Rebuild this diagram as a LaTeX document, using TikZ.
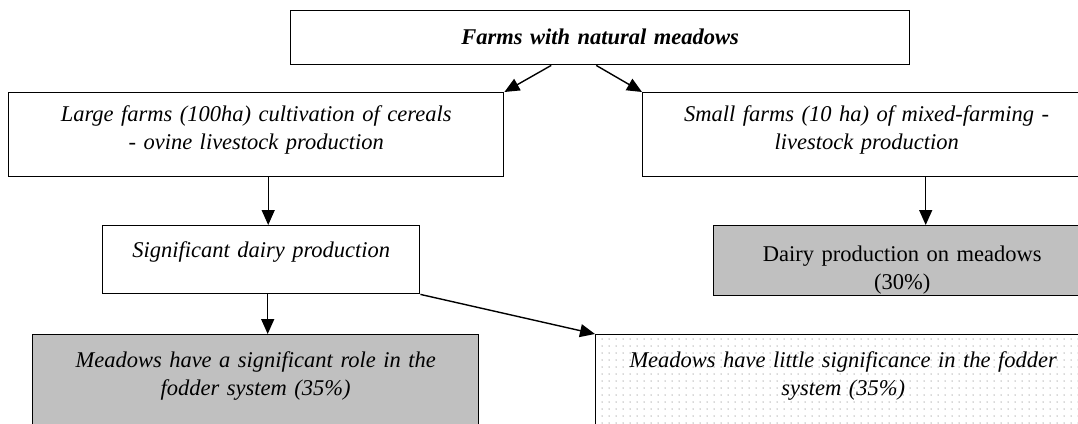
\documentclass[tikz,border=0pt]{standalone}
\usepackage{fontspec}
\setmainfont{Liberation Serif}
\usetikzlibrary{arrows.meta,patterns.meta}
\definecolor{cellgray}{HTML}{C0C0C0}
\definecolor{dotgray}{HTML}{B0B0B0}
\tikzset{
	box/.style={draw, line width=1.4pt, anchor=north west, inner xsep=0pt, inner ysep=0pt, align=center, font=\fontsize{22.5}{28}\selectfont\itshape},
	plain/.style={box, font=\fontsize{22.5}{28}\selectfont},
	title/.style={box, font=\fontsize{22.5}{28}\selectfont\bfseries\itshape},
	shaded/.style={fill=cellgray},
	dotted fill/.style={pattern={Dots[distance=7pt,radius=0.75pt]}, pattern color=dotgray},
	arr/.style={line width=1.4pt, -{Triangle[length=15pt,width=13pt]}}
}

\begin{document}
\begin{tikzpicture}[x=1pt,y=-1pt]
		\useasboundingbox (0,0) rectangle (1078,423);
		\clip (0,0) rectangle (1078,423);

		\node (farms)[title, text width=619pt, text height=34pt, text depth=20pt] at (290,10) {Farms with natural meadows};
		\node (large)[box, text width=495pt, text height=29pt, text depth=55pt] at (8,92) {Large farms (100ha) cultivation of cereals\\- ovine livestock production};
		\node (small)[box, text width=448pt, text height=29pt, text depth=55pt] at (642,92) {Small farms (10 ha) of mixed-farming -\\livestock production};
		\node (sig)[box, text width=317pt, text height=32pt, text depth=36pt] at (102,225) {Significant dairy production};
		\node (dairy)[plain, shaded, text width=377pt, text height=36pt, text depth=34pt] at (713,225) {Dairy production on meadows\\(30\%)};
		\node (role)[box, shaded, text width=446pt, text height=33pt, text depth=110pt] at (32,334) {Meadows have a significant role in the\\fodder system (35\%)};
		\node (little)[box, dotted fill, text width=495pt, text height=33pt, text depth=110pt] at (595,334) {Meadows have little significance in the fodder\\system (35\%)};

		\draw [arr]([xshift=-49pt]farms.south) -- (large.north east);
		\draw [arr]([xshift=-4pt]farms.south) -- (small.north west);
		\draw [arr]([xshift=12pt]large.south) -- ([xshift=12pt]large.south |- sig.north);
		\draw [arr]([xshift=6.5pt]sig.south) -- ([xshift=6.5pt]sig.south |- role.north);
		\draw [arr](sig.south east) -- (little.north west);
		\draw [arr]([xshift=59pt]small.south) -- ([xshift=59pt]small.south |- dairy.north);
	\end{tikzpicture}
\end{document}
